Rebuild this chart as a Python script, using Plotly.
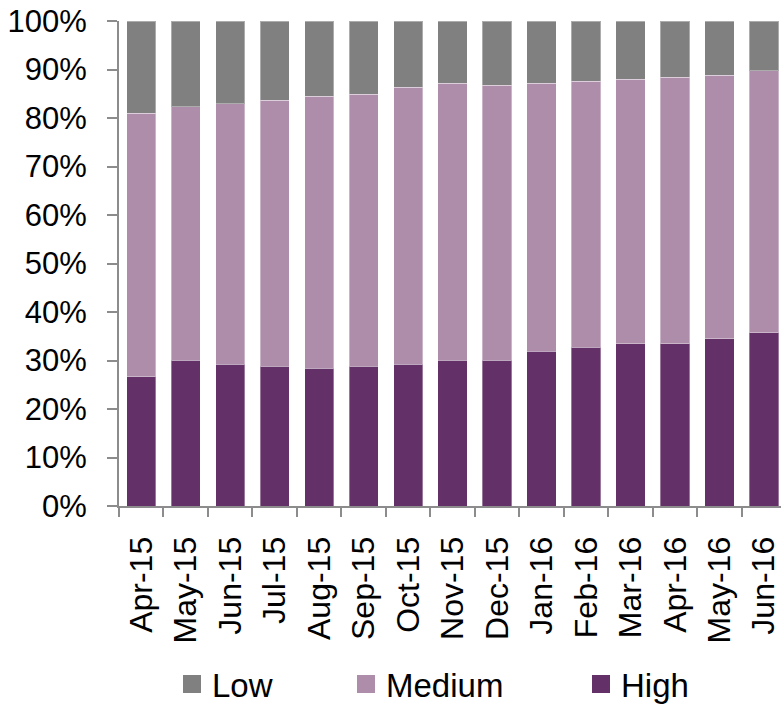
import plotly.graph_objects as go

# Monthly share of each risk band (percent of total)
months = ["Apr-15", "May-15", "Jun-15", "Jul-15", "Aug-15", "Sep-15", "Oct-15",
          "Nov-15", "Dec-15", "Jan-16", "Feb-16", "Mar-16", "Apr-16", "May-16", "Jun-16"]
high = [26.6, 30.1, 29.2, 28.8, 28.4, 28.8, 29.2, 30.1, 30.1, 31.9, 32.7, 33.5, 33.5, 34.5, 35.7]
medium = [54.4, 52.2, 53.7, 54.9, 56.1, 56.1, 57.1, 57.1, 56.7, 55.3, 54.9, 54.5, 54.9, 54.3, 54.0]
low = [19.0, 17.7, 17.1, 16.3, 15.5, 15.1, 13.7, 12.8, 13.2, 12.8, 12.4, 12.0, 11.6, 11.2, 10.3]
y_ticks = [0, 10, 20, 30, 40, 50, 60, 70, 80, 90, 100]
y_tick_labels = [f"{v}%" for v in y_ticks]

COL_HIGH = "#633068"
COL_MED = "#AE8DAB"
COL_LOW = "#808080"
AXIS_COL = "#8C8C8C"
FONT = "Liberation Sans, Arial, sans-serif"

W, H = 781, 705

fig = go.Figure()

# Stacked bars, bottom to top: High, Medium, Low
for name, vals, col in [("High", high, COL_HIGH), ("Medium", medium, COL_MED), ("Low", low, COL_LOW)]:
    fig.add_trace(go.Bar(
        x=months, y=vals, name=name, showlegend=False,
        marker=dict(color=col, line=dict(color="rgba(255,255,255,0.35)", width=1)),
        hoverinfo="x+y+name",
    ))

# Legend entries: one square swatch per band, each in its own legend box
legend_pos = {"Low": 184, "Medium": 358, "High": 593}
legend_ids = {"Low": "legend", "Medium": "legend2", "High": "legend3"}
for name, col in [("Low", COL_LOW), ("Medium", COL_MED), ("High", COL_HIGH)]:
    fig.add_trace(go.Scatter(
        x=[None], y=[None], mode="markers", name=name,
        marker=dict(symbol="square", size=16, color=col, line=dict(color=col, width=2)),
        legend=legend_ids[name], showlegend=True,
    ))

SYM_OFFSET = 12  # distance from legend box left edge to swatch left edge
legend_common = dict(
    orientation="h", xref="container", yref="container",
    xanchor="left", yanchor="middle", y=1 - 684 / H,
    font=dict(family=FONT, size=33, color="#000000"),
    bgcolor="rgba(0,0,0,0)", itemsizing="trace",
)

fig.update_layout(
    width=W, height=H,
    margin=dict(l=119, r=0, t=21, b=199, pad=0),
    plot_bgcolor="white", paper_bgcolor="white",
    barmode="stack", bargap=0.34,
    font=dict(family=FONT, size=31, color="#000000"),
    legend=dict(x=(legend_pos["Low"] - SYM_OFFSET) / W, **legend_common),
    legend2=dict(x=(legend_pos["Medium"] - SYM_OFFSET) / W, **legend_common),
    legend3=dict(x=(legend_pos["High"] - SYM_OFFSET) / W, **legend_common),
    xaxis=dict(
        type="category", range=[-0.5, 14.38],
        tickson="boundaries", ticks="outside", ticklen=9, tickwidth=2, tickcolor=AXIS_COL,
        showline=True, linecolor=AXIS_COL, linewidth=2,
        tickangle=-90, showgrid=False, zeroline=False,
        tickfont=dict(family=FONT, size=32, color="#000000"),
        ticklabelstandoff=16,
    ),
    yaxis=dict(
        range=[0, 100], tickmode="array", tickvals=y_ticks, ticktext=y_tick_labels,
        ticks="outside", ticklen=10, tickwidth=2, tickcolor=AXIS_COL,
        showline=True, linecolor=AXIS_COL, linewidth=2,
        showgrid=False, zeroline=False,
        tickfont=dict(family=FONT, size=31, color="#000000"),
        ticklabelstandoff=14,
    ),
)

fig.write_html("out.html")
